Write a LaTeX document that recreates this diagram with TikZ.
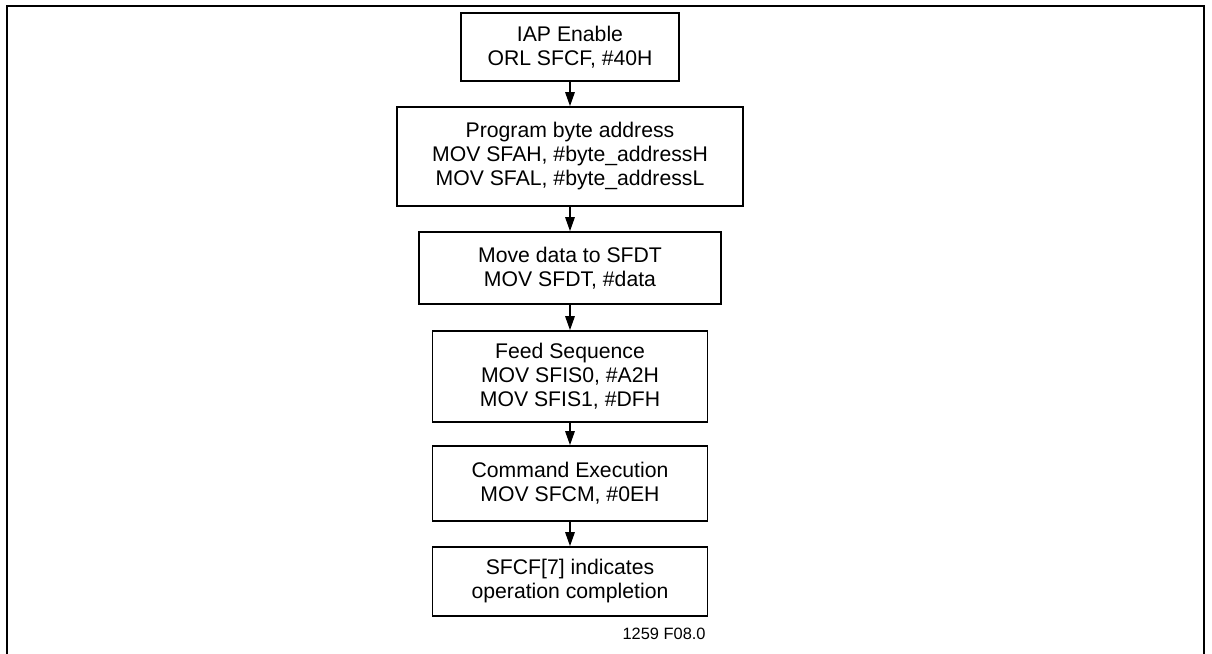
\documentclass[tikz,border=0pt]{standalone}
\usepackage{fontspec}
\setmainfont{Liberation Sans}
\usetikzlibrary{arrows.meta}

\begin{document}
\begin{tikzpicture}[x=0.5pt,y=-0.5pt,
	stepbox/.style={draw, line width=0.9pt, align=center, inner sep=0pt, font=\fontsize{10.6}{12}\selectfont},
	flow/.style={-{Triangle[length=7pt,width=4.8pt]}, line width=0.6pt}]
	\useasboundingbox (0,0) rectangle (1212,654);
	\draw[line width=1pt] (6.5,654) -- (6.5,5.5) -- (1204,5.5) -- (1204,654);
	\node[stepbox, minimum width=109pt, minimum height=34pt] (enable) at (570,47) {IAP Enable\\ORL SFCF, \#40H};
	\node[stepbox, minimum width=173pt, minimum height=49.5pt] (address) at (570,156.5) {Program byte address\\MOV SFAH, \#byte\_addressH\\MOV SFAL, \#byte\_addressL};
	\node[stepbox, minimum width=151pt, minimum height=36pt] (data) at (570,268) {Move data to SFDT\\MOV SFDT, \#data};
	\node[stepbox, minimum width=137.5pt, minimum height=45.5pt] (feed) at (570,376.5) {Feed Sequence\\MOV SFIS0, \#A2H\\MOV SFIS1, \#DFH};
	\node[stepbox, minimum width=137.5pt, minimum height=37.5pt] (command) at (570,483.5) {Command Execution\\MOV SFCM, \#0EH};
	\node[stepbox, minimum width=137.5pt, minimum height=34.5pt] (done) at (570,581.5) {SFCF[7] indicates\\operation completion};
	\draw[flow] (enable) -- (address);
	\draw[flow] (address) -- (data);
	\draw[flow] (data) -- (feed);
	\draw[flow] (feed) -- (command);
	\draw[flow] (command) -- (done);
	\node[anchor=base east, inner sep=0pt, font=\fontsize{8.2}{10}\selectfont] (figno) at (706,639) {1259 F08.0};
\end{tikzpicture}
\end{document}
